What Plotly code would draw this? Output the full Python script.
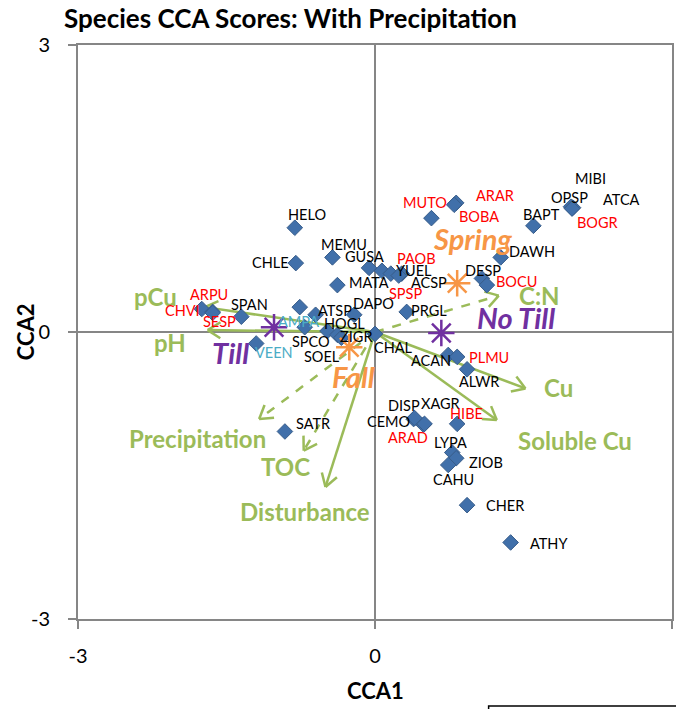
import math
import plotly.graph_objects as go

# ---------------- data ----------------
species = ["HELO", "CHLE", "MEMU", "GUSA", "PAOB", "SPSP", "YUEL", "ACSP", "MATA", "PRGL",
           "DESP", "BOCU", "DAWH", "MUTO", "ARAR", "BOBA", "BAPT", "OPSP", "MIBI", "ATCA",
           "BOGR", "CHVI", "ARPU", "SESP", "SPAN", "VEEN", "AMPA", "ATSP", "SPCO", "HOGL",
           "SOEL", "ZIGR", "DAPO", "CHAL", "ACAN", "PLMU", "ALWR", "CEMO", "DISP", "ARAD",
           "XAGR", "HIBE", "LYPA", "ZIOB", "CAHU", "CHER", "ATHY", "SATR"]
cca1 = [-0.81, -0.80, -0.43, -0.06, 0.07, 0.16, 0.27, 0.24, -0.38, 0.32,
        1.08, 1.13, 1.27, 0.57, 0.82, 0.80, 1.60, 1.99, 1.98, 2.00,
        1.99, -1.75, -1.64, -1.64, -1.35, -1.20, -0.76, -0.60, -0.71, -0.48,
        -0.38, -0.34, -0.21, 0.00, 0.74, 0.83, 0.93, 0.39, 0.40, 0.49,
        0.50, 0.83, 0.78, 0.82, 0.74, 0.93, 1.37, -0.91]
cca2 = [1.09, 0.72, 0.78, 0.67, 0.64, 0.61, 0.61, 0.59, 0.49, 0.21,
        0.56, 0.49, 0.78, 1.19, 1.35, 1.33, 1.11, 1.30, 1.31, 1.30,
        1.29, 0.24, 0.21, 0.20, 0.16, -0.12, 0.26, 0.18, 0.05, 0.01,
        -0.03, -0.06, 0.18, -0.02, -0.24, -0.26, -0.39, -0.91, -0.90, -0.97,
        -0.96, -0.96, -1.26, -1.32, -1.39, -1.81, -2.20, -1.04]

env_vars = ["pCu", "pH", "C:N", "Cu", "Soluble Cu", "Precipitation", "TOC", "Disturbance"]
env_cca1 = [-1.72, -1.69, 1.25, 1.52, 1.23, -1.17, -0.72, -0.50]
env_cca2 = [0.26, 0.02, 0.38, -0.59, -0.92, -0.91, -1.24, -1.62]

centroids = ["Spring", "Fall", "No Till", "Till"]
cent_cca1 = [0.83, -0.26, 0.67, -1.02]
cent_cca2 = [0.51, -0.16, -0.01, 0.05]

axis_ticks = [-3, 0, 3]

# ---------------- styling ----------------
W, H = 676, 709
ML, MR, MT, MB = 78, 2, 45, 90
PW, PH = W - ML - MR, H - MT - MB
XR, YR = (-3, 3), (-3, 3)
SX = PW / (XR[1] - XR[0])
SY = PH / (YR[1] - YR[0])

FONT = "Lato"
GRAY = "#868686"
GREEN = "#9BBB59"
ORANGE = "#F79646"
PURPLE = "#7030A0"
BLUE = "#4170AA"

RED_LABELS = {"PAOB", "SPSP", "BOCU", "MUTO", "ARAR", "BOBA", "BOGR", "CHVI", "ARPU",
              "SESP", "PLMU", "ARAD", "HIBE"}
CYAN_LABELS = {"VEEN", "AMPA"}

# label offsets from the marker, in pixels (dx right, dy down)
LABEL_OFFSETS = {
    "HELO": (12, -13), "CHLE": (-25, -1), "MEMU": (12, -13), "GUSA": (-5, -11),
    "PAOB": (35, -12), "SPSP": (15, 20), "YUEL": (12, -3), "ACSP": (30, 7),
    "MATA": (32, -3), "PRGL": (22, -1), "DESP": (1, -8), "BOCU": (30, -4),
    "DAWH": (31, -6), "MUTO": (-6, -16), "ARAR": (39, -7), "BOBA": (25, 12),
    "BAPT": (8, -11), "OPSP": (-3, -10), "MIBI": (19, -28), "ATCA": (48, -8),
    "BOGR": (25, 14), "CHVI": (-19, 1), "ARPU": (-4, -17), "SESP": (7, 9),
    "SPAN": (8, -12), "VEEN": (18, 9), "AMPA": (-1, 14), "ATSP": (19, -4),
    "SPCO": (6, 14), "HOGL": (17, -8), "SOEL": (-15, 22), "ZIGR": (15, -1),
    "DAPO": (19, -11), "CHAL": (18, 14), "ACAN": (-17, 6), "PLMU": (32, 1),
    "ALWR": (12, 12), "CEMO": (-25, 2), "DISP": (-11, -13), "ARAD": (-16, 13),
    "XAGR": (16, -20), "HIBE": (9, -10), "LYPA": (-2, -10), "ZIOB": (30, 4),
    "CAHU": (5, 15), "CHER": (38, 0), "ATHY": (38, 1), "SATR": (28, -8),
}
ENV_LABEL_OFFSETS = {
    "pCu": (-49, -11), "pH": (-38, 12), "C:N": (41, 0), "Cu": (33, -1),
    "Soluble Cu": (78, 20), "Precipitation": (-62, 19), "TOC": (-18, 16),
    "Disturbance": (-21, 25),
}
DASHED_VARS = {"C:N", "Precipitation", "TOC"}
CENT_STYLE = {
    "Spring": (ORANGE, (15, -45)), "Fall": (ORANGE, (4, 29)),
    "No Till": (PURPLE, (75, -15)), "Till": (PURPLE, (-44, 25)),
}

fig = go.Figure()
annotations = []

# environmental vectors with open arrowheads
for name, ex, ey in zip(env_vars, env_cca1, env_cca2):
    dash = "dash" if name in DASHED_VARS else "solid"
    fig.add_trace(go.Scatter(x=[0, ex], y=[0, ey], mode="lines",
                             line=dict(color=GREEN, width=2.5, dash=dash),
                             hoverinfo="skip", showlegend=False))
    # arrowhead wings computed in screen space
    px, py = ex * SX, ey * SY
    L = math.hypot(px, py)
    ux, uy = px / L, py / L
    head, ang = 15, math.radians(32)
    wx, wy = [], []
    for s in (1, -1):
        c, sn = math.cos(s * ang), math.sin(s * ang)
        bx = -(ux * c - uy * sn) * head
        by = -(ux * sn + uy * c) * head
        wx += [ex + bx / SX, ex, None]
        wy += [ey + by / SY, ey, None]
    fig.add_trace(go.Scatter(x=wx, y=wy, mode="lines",
                             line=dict(color=GREEN, width=2.5),
                             hoverinfo="skip", showlegend=False))
    dx, dy = ENV_LABEL_OFFSETS[name]
    annotations.append(dict(x=ex, y=ey, xref="x", yref="y", text=f"<b>{name}</b>",
                            showarrow=False, xshift=dx, yshift=-dy,
                            font=dict(family=FONT, size=24, color=GREEN)))

# species scores
fig.add_trace(go.Scatter(x=cca1, y=cca2, mode="markers",
                         marker=dict(symbol="diamond", size=12, color=BLUE,
                                     line=dict(color="#385D8A", width=1)),
                         text=species, hoverinfo="text", showlegend=False))
for name, x, y in zip(species, cca1, cca2):
    dx, dy = LABEL_OFFSETS[name]
    if name in RED_LABELS:
        col = "#FF0000"
    elif name in CYAN_LABELS:
        col = "#4BACC6"
    else:
        col = "#000000"
    annotations.append(dict(x=x, y=y, xref="x", yref="y", text=name, showarrow=False,
                            xshift=dx, yshift=-dy,
                            font=dict(family=FONT, size=14.5, color=col)))

# group centroids
for name, x, y in zip(centroids, cent_cca1, cent_cca2):
    col, (dx, dy) = CENT_STYLE[name]
    fig.add_trace(go.Scatter(x=[x], y=[y], mode="markers",
                             marker=dict(symbol="asterisk-open", size=22, color=col,
                                         line=dict(color=col, width=2.5)),
                             hoverinfo="skip", showlegend=False))
    annotations.append(dict(x=x, y=y, xref="x", yref="y", text=f"<b><i>{name}</i></b>",
                            showarrow=False, xshift=dx, yshift=-dy,
                            font=dict(family=FONT, size=29, color=col)))

# titles
annotations += [
    dict(x=(62 - ML) / PW, y=1 + (MT - 18) / PH, xref="paper", yref="paper",
         xanchor="left", yanchor="middle", showarrow=False,
         text="<b>Species CCA Scores: With Precipitation</b>",
         font=dict(family=FONT, size=26, color="#000000")),
    dict(x=0.5, y=-(690 - (MT + PH)) / PH, xref="paper", yref="paper",
         xanchor="center", yanchor="middle", showarrow=False, text="<b>CCA1</b>",
         font=dict(family=FONT, size=22, color="#000000")),
    dict(x=-(ML - 25) / PW, y=0.5, xref="paper", yref="paper", textangle=-90,
         xanchor="center", yanchor="middle", showarrow=False, text="<b>CCA2</b>",
         font=dict(family=FONT, size=22, color="#000000")),
]

axis_common = dict(range=list(XR), tickvals=axis_ticks, ticktext=[str(t) for t in axis_ticks],
                   showgrid=False, zeroline=True, zerolinecolor=GRAY, zerolinewidth=2,
                   showline=True, linecolor=GRAY, linewidth=2, mirror=True,
                   ticks="outside", ticklen=8, tickwidth=1.5, tickcolor=GRAY,
                   tickfont=dict(family=FONT, size=20, color="#000000"),
                   fixedrange=True)

fig.update_layout(
    width=W, height=H,
    margin=dict(l=ML, r=MR, t=MT, b=MB, pad=0),
    paper_bgcolor="white", plot_bgcolor="white",
    xaxis=dict(axis_common, ticklabelstandoff=10),
    yaxis=dict(axis_common, range=list(YR), ticklabelstandoff=14),
    annotations=annotations,
    shapes=[dict(type="rect", xref="paper", yref="paper",
                 x0=(490 - ML) / PW, x1=1.2, y0=-0.4, y1=-(706 - (MT + PH)) / PH,
                 line=dict(color="#000000", width=1.5), fillcolor="rgba(0,0,0,0)")],
    showlegend=False,
)

fig.write_html("out.html")
